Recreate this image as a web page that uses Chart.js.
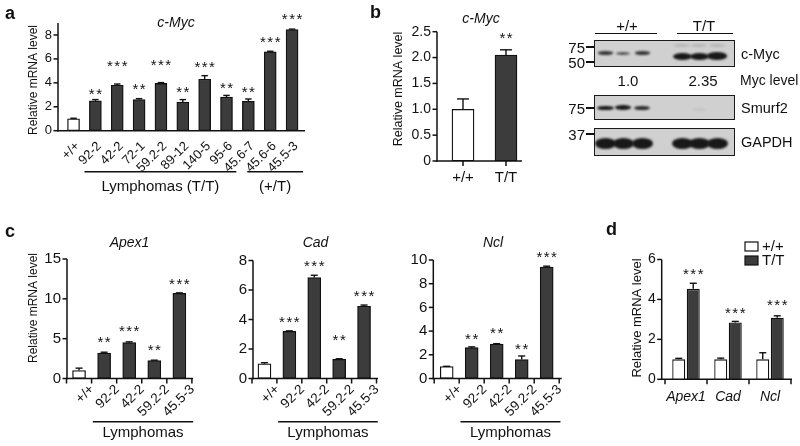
<!DOCTYPE html>
<html>
<head>
<meta charset="utf-8">
<script src="https://cdn.jsdelivr.net/npm/chart.js@4.4.1/dist/chart.umd.min.js"></script>
<style>
  body { margin: 0; background: #fff; width: 800px; height: 446px; overflow: hidden; position: relative;
         font-family: 'Liberation Sans', Arial, sans-serif; color: #111; }
  canvas { position: absolute; left: 0; top: 0; }
  .t { position: absolute; white-space: nowrap; line-height: 1; font-size: 14px; }
  .blot { position: absolute; background: #d0d0d0; border: 1.5px solid #1a1a1a; box-sizing: border-box; overflow: hidden; }
  .band { position: absolute; background: #181818; border-radius: 50%; filter: blur(1px); }
  .rule { position: absolute; height: 1.5px; background: #111; }
</style>
</head>
<body>
<script>
// panel a: c-Myc in lymphomas
const aLabels = ['+/+', '92-2', '42-2', '72-1', '59.2-2', '89-12', '140-5', '95-6', '45.6-7', '45.6-6', '45.5-3'];
const aValues = [1.0, 2.5, 3.8, 2.6, 3.95, 2.4, 4.3, 2.8, 2.45, 6.6, 8.45];
const aErrors = [0.04, 0.1, 0.1, 0.08, 0.07, 0.2, 0.3, 0.15, 0.2, 0.04, 0.04];
const aStars  = ['', '**', '***', '**', '***', '**', '***', '**', '**', '***', '***'];
const aStarAt = [0, 3.4, 5.7, 3.75, 5.77, 3.55, 5.58, 3.82, 3.55, 7.73, 9.6];

// panel b: c-Myc +/+ vs T/T
const bLabels = ['+/+', 'T/T'];
const bValues = [1.0, 2.05];
const bErrors = [0.2, 0.1];
const bStars  = ['', '**'];
const bStarAt = [0, 2.44];

// panel c: Myc targets
const cLabels = ['+/+', '92-2', '42-2', '59.2-2', '45.5-3'];
const apexValues = [1.0, 3.2, 4.5, 2.25, 10.7];
const apexErrors = [0.3, 0.1, 0.1, 0.05, 0.05];
const apexStars  = ['', '**', '***', '**', '***'];
const apexStarAt = [0, 5.08, 6.4, 4.03, 12.27];
const cadValues = [1.0, 3.2, 6.85, 1.3, 4.9];
const cadErrors = [0.07, 0.03, 0.15, 0.04, 0.08];
const cadStars  = ['', '***', '***', '**', '***'];
const cadStarAt = [0, 4.1, 7.86, 2.86, 5.84];
const nclValues = [1.0, 2.6, 2.9, 1.6, 9.4];
const nclErrors = [0.03, 0.07, 0.04, 0.3, 0.08];
const nclStars  = ['', '**', '**', '**', '***'];
const nclStarAt = [0, 3.66, 4.14, 2.81, 10.57];

// panel d: grouped
const dLabels = ['Apex1', 'Cad', 'Ncl'];
const dWt    = [1.0, 1.0, 1.0];
const dWtErr = [0.05, 0.06, 0.33];
const dTt    = [4.53, 2.85, 3.08];
const dTtErr = [0.28, 0.05, 0.1];
const dStars  = ['***', '***', '***'];
const dStarAt = [5.43, 3.52, 3.88];

const FONT = "'Liberation Sans', Arial, sans-serif";
const WHITE = '#ffffff';
const DARK = '#3c3c3c';
Chart.defaults.font.family = FONT;
Chart.defaults.color = '#111';

function figPlugin(cfg) {
  return {
    id: 'fig',
    afterDatasetsDraw(chart) {
      const ctx = chart.ctx, xs = chart.scales.x, ys = chart.scales.y;
      const y0 = ys.getPixelForValue(0), yTop = ys.getPixelForValue(cfg.yMax);
      const line = (x1, y1, x2, y2) => { ctx.beginPath(); ctx.moveTo(x1, y1); ctx.lineTo(x2, y2); ctx.stroke(); };
      ctx.save();
      ctx.strokeStyle = '#111';
      ctx.fillStyle = '#111';
      ctx.lineWidth = 1.5;

      // axes drawn by hand so the axis line can sit a little left of the first bar
      line(cfg.axisX, yTop, cfg.axisX, y0 + 0.75);
      ys.ticks.forEach(t => {
        const p = ys.getPixelForValue(t.value);
        line(cfg.axisX - 4.5, p, cfg.axisX, p);
      });
      line(cfg.axisX - 0.75, y0, cfg.xEnd, y0);
      const n = chart.data.labels.length;
      if (cfg.xTicks === 'center') {
        for (let i = 0; i < n; i++) { const p = xs.getPixelForValue(i); line(p, y0, p, y0 + 5); }
      } else if (cfg.xTicks === 'between') {
        for (let i = 0; i <= n; i++) { const p = xs.getPixelForValue(i - 0.5); line(p, y0, p, y0 + 5); }
      }

      // error bars (upper only) and asterisks
      chart.data.datasets.forEach((ds, d) => {
        const meta = chart.getDatasetMeta(d);
        meta.data.forEach((bar, i) => {
          const pv = ys.getPixelForValue(ds.data[i]);
          const pe = ys.getPixelForValue(ds.data[i] + cfg.errors[d][i]);
          ctx.lineWidth = 1.4;
          line(bar.x, pv, bar.x, pe);
          const cw = bar.width * 0.27;
          line(bar.x - cw, pe, bar.x + cw, pe);
          const st = cfg.stars[d] && cfg.stars[d][i];
          if (st) {
            ctx.font = '15px ' + FONT;
            ctx.letterSpacing = '1.5px';
            ctx.textAlign = 'center';
            ctx.textBaseline = 'alphabetic';
            ctx.fillText(st, bar.x + 0.75, ys.getPixelForValue(cfg.starAt[d][i]) + 8.5);
            ctx.letterSpacing = '0px';
          }
        });
      });

      // underline groups
      (cfg.groups || []).forEach(g => {
        const x1 = xs.getPixelForValue(g.from), x2 = xs.getPixelForValue(g.to);
        ctx.lineWidth = 1.5;
        line(x1, g.y, x2, g.y);
        ctx.font = '15px ' + FONT;
        ctx.textAlign = 'center';
        ctx.textBaseline = 'alphabetic';
        ctx.fillText(g.label, (x1 + x2) / 2, g.ly);
      });

      // title
      if (cfg.title) {
        ctx.font = 'italic 14px ' + FONT;
        ctx.textAlign = 'center';
        ctx.textBaseline = 'alphabetic';
        ctx.fillText(cfg.title.text, cfg.title.x, cfg.title.y);
      }

      // y axis title
      if (cfg.yTitle) {
        ctx.save();
        ctx.translate(cfg.yTitle.x, cfg.yTitle.y);
        ctx.rotate(-Math.PI / 2);
        ctx.font = cfg.yTitle.size + 'px ' + FONT;
        ctx.textAlign = 'center';
        ctx.textBaseline = 'middle';
        ctx.fillText('Relative mRNA level', 0, 0);
        ctx.restore();
      }

      // legend
      if (cfg.legend) {
        const L = cfg.legend;
        chart.data.datasets.forEach((ds, d) => {
          const ty = L.y + d * L.step;
          ctx.fillStyle = ds.backgroundColor;
          ctx.fillRect(L.x, ty - 4.5, 13, 9);
          ctx.lineWidth = 1.2;
          ctx.strokeRect(L.x, ty - 4.5, 13, 9);
          ctx.fillStyle = '#111';
          ctx.font = '15px ' + FONT;
          ctx.textAlign = 'left';
          ctx.textBaseline = 'middle';
          ctx.fillText(ds.label, L.x + 17, ty + 0.5);
        });
      }
      ctx.restore();
    }
  };
}

function barPanel(cfg) {
  const canvas = document.createElement('canvas');
  canvas.width = 800;
  canvas.height = 446;
  document.body.appendChild(canvas);
  const a = cfg.area;
  const YW = 40, XH = 40;
  const step = cfg.yStep;
  return new Chart(canvas, {
    type: 'bar',
    data: { labels: cfg.labels, datasets: cfg.datasets },
    options: {
      responsive: false,
      animation: false,
      devicePixelRatio: 1,
      layout: { padding: { left: a.left - YW, right: 800 - a.right, top: a.top, bottom: 446 - a.bottom - XH } },
      plugins: { legend: { display: false }, tooltip: { enabled: false } },
      scales: {
        x: {
          offset: true,
          grid: { display: false, drawTicks: false },
          border: { display: false },
          ticks: {
            autoSkip: false,
            maxRotation: cfg.rot, minRotation: cfg.rot,
            padding: cfg.xPad, labelOffset: cfg.xShift || 0,
            font: cfg.xFont, color: '#111'
          },
          afterFit: s => { s.height = XH; }
        },
        y: {
          min: 0, max: cfg.yMax,
          grid: { display: false, drawTicks: false },
          border: { display: false },
          ticks: {
            stepSize: step,
            padding: a.left - cfg.axisX + 6,
            font: { size: cfg.yFont },
            color: '#111',
            callback: cfg.yFmt || (v => v)
          },
          afterBuildTicks: s => {
            s.ticks = s.ticks.filter(t => Math.abs(t.value / step - Math.round(t.value / step)) < 1e-6);
          },
          afterFit: s => { s.width = YW; }
        }
      }
    },
    plugins: [figPlugin(cfg)]
  });
}

function bar(data, colors, width, label) {
  return { label: label, data: data, backgroundColor: colors, borderColor: '#111', borderWidth: 1.3,
           barThickness: width, borderSkipped: false };
}
const firstWhite = n => Array.from({ length: n }, (_, i) => i === 0 ? WHITE : DARK);

// ---- panel a ----
barPanel({
  labels: aLabels,
  datasets: [bar(aValues, firstWhite(aLabels.length), 12)],
  errors: [aErrors], stars: [aStars], starAt: [aStarAt],
  area: { left: 62.6, right: 303, top: 23, bottom: 130.7 },
  axisX: 58, xEnd: 305, xTicks: 'none',
  yMax: 9, yStep: 2, yFont: 13,
  rot: 45, xPad: 8, xShift: 4, xFont: { size: 13 },
  title: { text: 'c-Myc', x: 176, y: 27 },
  yTitle: { x: 34, y: 80, size: 12 },
  groups: [
    { from: 0.5, to: 7.45, y: 171.7, label: 'Lymphomas (T/T)', ly: 191 },
    { from: 7.95, to: 10.5, y: 171.7, label: '(+/T)', ly: 191 }
  ]
});

// ---- panel b ----
barPanel({
  labels: bLabels,
  datasets: [bar(bValues, [WHITE, DARK], 22)],
  errors: [bErrors], stars: [bStars], starAt: [bStarAt],
  area: { left: 441.5, right: 527.5, top: 31.7, bottom: 161 },
  axisX: 437, xEnd: 522, xTicks: 'center',
  yMax: 2.5, yStep: 0.5, yFont: 14,
  yFmt: v => v === 0 ? '0' : v.toFixed(1),
  rot: 0, xPad: 8, xFont: { size: 15 },
  title: { text: 'c-Myc', x: 481, y: 23 },
  yTitle: { x: 399, y: 89, size: 12.5 }
});

// ---- panel c ----
const cCommon = {
  labels: cLabels, xTicks: 'between', yFont: 15,
  rot: 45, xPad: 3, xShift: 13, xFont: { size: 13.5 }
};
barPanel(Object.assign({}, cCommon, {
  datasets: [bar(apexValues, firstWhite(5), 13)],
  errors: [apexErrors], stars: [apexStars], starAt: [apexStarAt],
  area: { left: 66.5, right: 191.9, top: 259, bottom: 378.5 },
  axisX: 67, xEnd: 193, yMax: 15, yStep: 5,
  title: { text: 'Apex1', x: 129.5, y: 247 },
  yTitle: { x: 34, y: 308, size: 12 },
  groups: [{ from: 0.55, to: 4.55, y: 421.7, label: 'Lymphomas', ly: 437 }]
}));
barPanel(Object.assign({}, cCommon, {
  datasets: [bar(cadValues, firstWhite(5), 13)],
  errors: [cadErrors], stars: [cadStars], starAt: [cadStarAt],
  area: { left: 252, right: 376.5, top: 260.5, bottom: 378.5 },
  axisX: 253, xEnd: 378, yMax: 8, yStep: 2,
  title: { text: 'Cad', x: 315.5, y: 247 },
  groups: [{ from: 0.55, to: 4.55, y: 421.7, label: 'Lymphomas', ly: 437 }]
}));
barPanel(Object.assign({}, cCommon, {
  datasets: [bar(nclValues, firstWhite(5), 13)],
  errors: [nclErrors], stars: [nclStars], starAt: [nclStarAt],
  area: { left: 434.2, right: 559.2, top: 260, bottom: 378.5 },
  axisX: 433.3, xEnd: 561.7, yMax: 10, yStep: 2,
  title: { text: 'Ncl', x: 493, y: 247 },
  groups: [{ from: 0.55, to: 4.55, y: 421.7, label: 'Lymphomas', ly: 437 }]
}));

// ---- panel d ----
barPanel({
  labels: dLabels,
  datasets: [
    { label: '+/+', data: dWt, backgroundColor: WHITE, borderColor: '#111', borderWidth: 1.3,
      categoryPercentage: 29 / 42, barPercentage: 13 / 14.5 },
    { label: 'T/T', data: dTt, backgroundColor: DARK, borderColor: '#111', borderWidth: 1.3,
      categoryPercentage: 29 / 42, barPercentage: 13 / 14.5 }
  ],
  errors: [dWtErr, dTtErr], stars: [null, dStars], starAt: [null, dStarAt],
  area: { left: 665, right: 791, top: 259.5, bottom: 379.3 },
  axisX: 661.7, xEnd: 792, xTicks: 'between',
  yMax: 6, yStep: 2, yFont: 14,
  rot: 0, xPad: 9.5, xFont: { size: 14, style: 'italic' },
  yTitle: { x: 637.5, y: 318, size: 13 },
  legend: { x: 745, y: 246.5, step: 14 }
});

// ---- western blot (panel b, right) ----
function text(str, x, y, align, extra) {
  const el = document.createElement('div');
  el.className = 't';
  el.textContent = str;
  el.style.left = x + 'px';
  el.style.top = y + 'px';
  const tx = align === 'left' ? '0' : align === 'right' ? '-100%' : '-50%';
  el.style.transform = 'translate(' + tx + ', -50%)';
  if (extra) Object.assign(el.style, extra);
  document.body.appendChild(el);
}
function box(cls, x, y, w, h, extra) {
  const el = document.createElement('div');
  el.className = cls;
  el.style.left = x + 'px';
  el.style.top = y + 'px';
  el.style.width = w + 'px';
  el.style.height = h + 'px';
  if (extra) Object.assign(el.style, extra);
  document.body.appendChild(el);
  return el;
}

const blotLaneX = [605, 623, 642, 682, 699, 717];
const blotRows = [
  { name: 'c-Myc',  top: 40,  bottom: 67,  bandY: [53, 53, 53, 56, 56, 56], bandW: [15, 14, 15, 19, 19, 20], bandH: [3.5, 3, 3.5, 7, 7, 7.5], alpha: [0.85, 0.7, 0.85, 1, 1, 1] },
  { name: 'Smurf2', top: 95,  bottom: 120, bandY: [108, 107.5, 108, 109, 109, 109], bandW: [17, 16, 16, 14, 14, 14], bandH: [4.5, 4.5, 4, 3, 3, 3], alpha: [1, 1, 0.9, 0, 0.06, 0] },
  { name: 'GAPDH',  top: 128, bottom: 156, bandY: [143, 143, 143, 143, 143, 143], bandW: [21, 21, 21, 21, 21, 21], bandH: [11, 11, 11, 11, 11, 11], alpha: [1, 1, 1, 1, 1, 1] }
];
const markers = [
  { label: '75', y: 47 }, { label: '50', y: 62 }, { label: '75', y: 108 }, { label: '37', y: 134 }
];

blotRows.forEach(r => {
  box('blot', 594, r.top, 141, r.bottom - r.top);
  blotLaneX.forEach((x, i) => {
    if (r.alpha[i] > 0) {
      box('band', x - r.bandW[i] / 2, r.bandY[i] - r.bandH[i] / 2, r.bandW[i], r.bandH[i], { opacity: r.alpha[i] });
    }
  });
  text(r.name, 741, (r.top + r.bottom) / 2, 'left', { fontSize: '14.5px' });
});
// faint upper bands in T/T c-Myc lanes
blotLaneX.slice(3).forEach(x => box('band', x - 8, 43.5, 16, 3, { opacity: 0.15 }));

markers.forEach(m => {
  text(m.label, 585, m.y, 'right', { fontSize: '15px' });
  box('rule', 586, m.y - 0.75, 8, 1.5);
});

text('+/+', 627, 25, 'center', { fontSize: '15px' });
text('T/T', 704, 25, 'center', { fontSize: '15px' });
box('rule', 595, 32.5, 62, 1.5);
box('rule', 677, 32.5, 56, 1.5);
text('1.0', 628, 80, 'center', { fontSize: '15px' });
text('2.35', 703, 80, 'center', { fontSize: '15px' });
text('Myc level', 740, 80, 'left', { fontSize: '14px' });

// panel letters
text('a', 5, 13, 'left', { fontSize: '18px', fontWeight: 'bold' });
text('b', 370, 12, 'left', { fontSize: '18px', fontWeight: 'bold' });
text('c', 5, 231, 'left', { fontSize: '18px', fontWeight: 'bold' });
text('d', 606, 229, 'left', { fontSize: '18px', fontWeight: 'bold' });
</script>
</body>
</html>
